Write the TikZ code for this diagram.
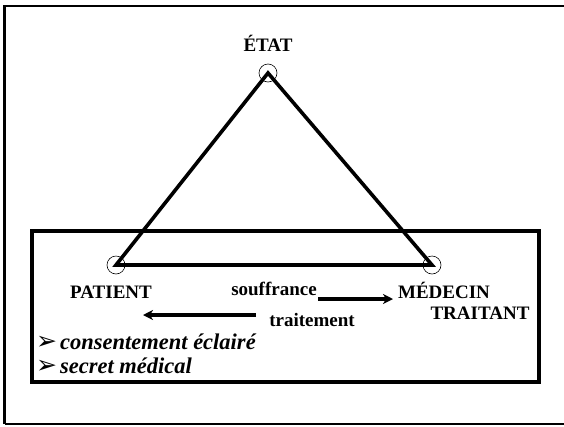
\documentclass[tikz,border=0pt]{standalone}
\usepackage{fontspec}
\setmainfont{Liberation Serif}
\newfontfamily\symfont{DejaVu Sans}
\usetikzlibrary{arrows.meta}
\newcommand{\bulletarrow}{{\normalfont\symfont\fontsize{25}{25}\selectfont ➢}\hspace{3pt}}
\begin{document}
\begin{tikzpicture}[x=1pt,y=-1pt,
  lbl/.style={font=\fontsize{19}{22}\selectfont\bfseries, inner sep=0pt},
  item/.style={font=\fontsize{22.5}{24}\selectfont\bfseries\itshape, inner sep=0pt, anchor=west},
  vertex/.style={circle, draw, line width=0.6pt, minimum size=18pt, inner sep=0pt},
  edge/.style={line width=3.6pt, line join=miter},
  flow/.style={line width=3.2pt, -{Stealth[length=10pt,width=10pt,inset=3pt]}}]
\useasboundingbox (0,0) rectangle (564,426);
% page frame
\draw[line width=2.4pt] (4.5,424) -- (4.5,6) -- (570,6);
\draw[line width=1.4pt] (4.5,424) -- (570,424);
% lower panel
\draw[line width=3.6pt] (32,231) rectangle (539,382);
% triangle vertices
\node[vertex] (etat) at (268,73) {};
\node[vertex] (pat) at (116,265) {};
\node[vertex] (med) at (432,265) {};
\draw[edge] (etat.center) -- (pat.center) -- (med.center) -- cycle;
% labels
\node[lbl] (tEtat) at (268,43) {ÉTAT};
\node[lbl] (tPat) at (111,292) {PATIENT};
\node[lbl] (tSouf) at (274,289) {souffrance};
\node[lbl] (tMed) at (444,290) {MÉDECIN};
\node[lbl] (tTrait) at (480,313) {TRAITANT};
\node[lbl] (tTrt) at (312,320) {traitement};
% exchanges
\coordinate (s1) at (318,299);
\coordinate (s2) at (393,299);
\draw[flow] (s1) -- (s2);
\coordinate (t1) at (256,315);
\coordinate (t2) at (143,315);
\draw[flow] (t1) -- (t2);
% patient rights
\node[item] (i1) at (36,342) {\bulletarrow consentement éclairé};
\node[item] (i2) at (36,366) {\bulletarrow secret médical};
\end{tikzpicture}
\end{document}
